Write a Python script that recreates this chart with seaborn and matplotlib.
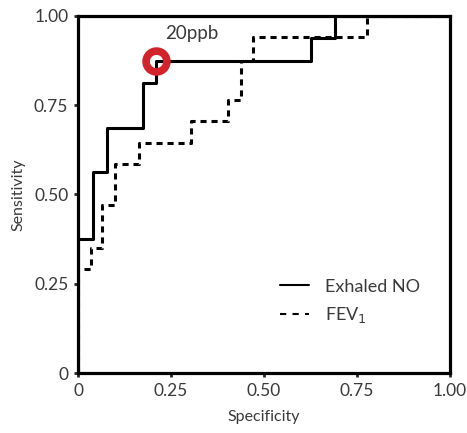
import matplotlib
matplotlib.use("Agg")
import matplotlib.pyplot as plt
import seaborn as sns
import pandas as pd

# step corners of the two ROC curves
no_x = [0, 0, 0.04, 0.077, 0.175, 0.21, 0.625, 0.69, 1.0]
no_y = [0, 0.375, 0.5625, 0.6875, 0.8125, 0.875, 0.9375, 1.0, 1.0]

fev_x = [0, 0, 0.034, 0.065, 0.10, 0.164, 0.303, 0.404, 0.438, 0.471, 0.776, 1.0]
fev_y = [0, 0.29, 0.35, 0.47, 0.585, 0.645, 0.705, 0.765, 0.875, 0.94, 1.0, 1.0]

cutoff_x = [0.21]
cutoff_y = [0.875]
cutoff_label = "20ppb"

ticks = [0, 0.25, 0.5, 0.75, 1.0]
tick_labels = ["0", "0.25", "0.50", "0.75", "1.00"]

sns.set_style("white")
plt.rcParams['font.family'] = ['Lato', 'DejaVu Sans']
txt = '#3a3a3a'

fig = plt.figure(figsize=(4.67, 4.33), dpi=100)
ax = fig.add_axes([78/467, 1 - 373/433, 372/467, 357/433])

df_no = pd.DataFrame({'x': no_x, 'y': no_y})
df_fev = pd.DataFrame({'x': fev_x, 'y': fev_y})

# estimator=None so repeated x values are not averaged
sns.lineplot(data=df_no, x='x', y='y', sort=False, estimator=None, drawstyle='steps-post',
             color='black', lw=2.2, ax=ax, label='Exhaled NO')
sns.lineplot(data=df_fev, x='x', y='y', sort=False, estimator=None, drawstyle='steps-post',
             color='black', lw=2.2, ax=ax, label='FEV$_1$')
ax.lines[1].set_dashes([2.0, 1.6])

ax.plot(cutoff_x, cutoff_y, marker='o', ms=15, mfc='none', mec='#d2232a', mew=5.5,
        ls='none', zorder=5)
ax.text(0.305, 0.95, cutoff_label, ha='center', va='center', fontsize=13.5, color=txt)

ax.set_xlim(0, 1)
ax.set_ylim(0, 1)
ax.set_xticks(ticks)
ax.set_xticklabels(tick_labels)
ax.set_yticks(ticks)
ax.set_yticklabels(tick_labels)
ax.tick_params(direction='out', length=3, width=2, labelsize=12.5, labelcolor=txt,
               left=True, bottom=True, pad=4)
for s in ax.spines.values():
    s.set_linewidth(2.3)
    s.set_color('black')

ax.set_xlabel("Specificity", fontsize=11.5, color=txt, labelpad=8)
ax.set_ylabel("Sensitivity", fontsize=11.5, color=txt, labelpad=6)

leg = ax.legend(loc='upper left', bbox_to_anchor=(0.50, 0.31), frameon=False,
                fontsize=13, handlelength=1.6, handletextpad=0.9, labelspacing=0.6)
for t in leg.get_texts():
    t.set_color(txt)
for h in leg.get_lines():
    h.set_linewidth(1.5)
leg.get_lines()[1].set_dashes([3.0, 3.0])

fig.savefig("out.png", dpi=100)
